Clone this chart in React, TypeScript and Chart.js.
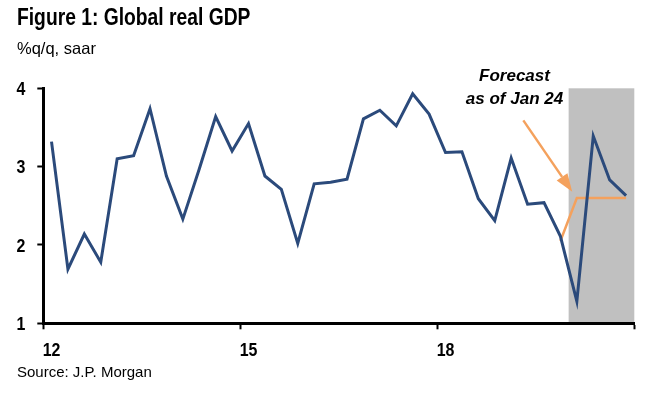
import React, { useEffect, useRef } from "react";
import { Chart, registerables } from "chart.js";

Chart.register(...registerables);

// ---- Data ----
const quarters = [
  "1Q12", "2Q12", "3Q12", "4Q12",
  "1Q13", "2Q13", "3Q13", "4Q13",
  "1Q14", "2Q14", "3Q14", "4Q14",
  "1Q15", "2Q15", "3Q15", "4Q15",
  "1Q16", "2Q16", "3Q16", "4Q16",
  "1Q17", "2Q17", "3Q17", "4Q17",
  "1Q18", "2Q18", "3Q18", "4Q18",
  "1Q19", "2Q19", "3Q19", "4Q19",
  "1Q20", "2Q20", "3Q20", "4Q20",
];

const globalGdp = [
  3.32, 1.69, 2.14, 1.78,
  3.10, 3.14, 3.74, 2.88,
  2.33, 2.97, 3.64, 3.20,
  3.55, 2.88, 2.71, 2.02,
  2.78, 2.80, 2.84, 3.61,
  3.72, 3.52, 3.93, 3.67,
  3.18, 3.19, 2.59, 2.31,
  3.11, 2.52, 2.54, 2.11,
  1.28, 3.39, 2.83, 2.63,
];

const forecastJan24 = [
  null, null, null, null,
  null, null, null, null,
  null, null, null, null,
  null, null, null, null,
  null, null, null, null,
  null, null, null, null,
  null, null, null, null,
  null, null, null, 2.05,
  2.60, 2.60, 2.60, 2.60,
];

const labelledQuarters = ["1Q12", "1Q15", "1Q18"];
const tickYearLabels = ["12", "15", "18"];
const boundaryQuarters = ["1Q12", "1Q15", "1Q18"]; // tick marks at these starts + axis end
const yTicks = [1, 2, 3, 4];

const shadeFrom = "1Q20";
const shadeTo = "4Q20";

// arrow annotation: [category index, value]
const arrowStart = [28.74, 3.59];
const arrowEnd = [31.72, 2.68];

const FONT = "'Liberation Sans', Arial, Helvetica, sans-serif";
const BLUE = "#2B4A7B";
const ORANGE = "#F4A15D";
const GREY = "#C0C0C0";
const NARROW_X = 0.84;
const TICK_FONT_PX = 19;

const shadePlugin = {
  id: "shadeForecast",
  beforeDraw(chart: any) {
    const xs = chart.scales.x;
    const ys = chart.scales.y;
    if (!xs || !ys) return;
    const i0 = quarters.indexOf(shadeFrom);
    const i1 = quarters.indexOf(shadeTo);
    const left = xs.getPixelForValue(i0 - 0.5);
    const right = xs.getPixelForValue(i1 + 0.5);
    const top = ys.getPixelForValue(yTicks[yTicks.length - 1]);
    const bottom = ys.getPixelForValue(yTicks[0]);
    const ctx = chart.ctx;
    ctx.save();
    ctx.fillStyle = GREY;
    ctx.fillRect(left, top, right - left, bottom - top);
    ctx.restore();
  },
};

const arrowPlugin = {
  id: "forecastArrow",
  afterDatasetsDraw(chart: any) {
    const xs = chart.scales.x;
    const ys = chart.scales.y;
    const x0 = xs.getPixelForValue(arrowStart[0]);
    const y0 = ys.getPixelForValue(arrowStart[1]);
    const x1 = xs.getPixelForValue(arrowEnd[0]);
    const y1 = ys.getPixelForValue(arrowEnd[1]);
    const ang = Math.atan2(y1 - y0, x1 - x0);
    const headLen = 18;
    const headW = 6.5;
    const bx = x1 - headLen * Math.cos(ang);
    const by = y1 - headLen * Math.sin(ang);
    const ctx = chart.ctx;
    ctx.save();
    ctx.strokeStyle = ORANGE;
    ctx.fillStyle = ORANGE;
    ctx.lineWidth = 2.5;
    ctx.beginPath();
    ctx.moveTo(x0, y0);
    ctx.lineTo(bx, by);
    ctx.stroke();
    ctx.beginPath();
    ctx.moveTo(x1, y1);
    ctx.lineTo(bx + headW * Math.sin(ang), by - headW * Math.cos(ang));
    ctx.lineTo(bx - headW * Math.sin(ang), by + headW * Math.cos(ang));
    ctx.closePath();
    ctx.fill();
    ctx.restore();
  },
};

// narrow (condensed) tick labels placed at the scales' own tick positions
const narrowTickLabels = {
  id: "narrowTickLabels",
  afterDraw(chart: any) {
    const xs = chart.scales.x;
    const ys = chart.scales.y;
    const ctx = chart.ctx;
    const capHalf = TICK_FONT_PX * 0.716 / 2;
    ctx.save();
    ctx.fillStyle = "#000";
    ctx.font = `bold ${TICK_FONT_PX}px ${FONT}`;
    ctx.textBaseline = "alphabetic";
    // x labels
    ctx.textAlign = "center";
    const xBase = xs.top + 6 + 13 + capHalf * 2;
    labelledQuarters.forEach((q, k) => {
      const px = xs.getPixelForValue(quarters.indexOf(q));
      ctx.save();
      ctx.translate(px, xBase);
      ctx.scale(NARROW_X, 1);
      ctx.fillText(tickYearLabels[k], 0, 0);
      ctx.restore();
    });
    // y labels
    ctx.textAlign = "right";
    const xRight = ys.right - 6 - 12;
    yTicks.forEach((v) => {
      const py = ys.getPixelForValue(v);
      ctx.save();
      ctx.translate(xRight, py + capHalf);
      ctx.scale(NARROW_X, 1);
      ctx.fillText(String(v), 0, 0);
      ctx.restore();
    });
    ctx.restore();
  },
};

export default function App() {
  const canvasRef = useRef<HTMLCanvasElement | null>(null);

  useEffect(() => {
    const canvas = canvasRef.current;
    if (!canvas) return;
    const boundaryIdx = boundaryQuarters.map((q) => quarters.indexOf(q));
    const chart = new Chart(canvas, {
      type: "line",
      data: {
        labels: quarters,
        datasets: [
          {
            label: "Forecast as of Jan 24",
            data: forecastJan24 as any,
            borderColor: ORANGE,
            borderWidth: 2.5,
            pointRadius: 0,
            tension: 0,
            spanGaps: false,
            order: 2,
          },
          {
            label: "Global real GDP",
            data: globalGdp,
            borderColor: BLUE,
            borderWidth: 3,
            pointRadius: 0,
            tension: 0,
            order: 1,
          },
        ],
      },
      options: {
        animation: false,
        responsive: false,
        maintainAspectRatio: false,
        events: [],
        layout: { padding: { top: 88.3, right: 14.7, left: 0, bottom: 0 } },
        plugins: {
          legend: { display: false },
          tooltip: { enabled: false },
          title: { display: false },
        },
        scales: {
          x: {
            type: "category",
            offset: true,
            grid: {
              offset: true,
              drawOnChartArea: false,
              drawTicks: true,
              tickLength: 6,
              tickWidth: 2,
              tickColor: (ctx: any) =>
                ctx.type === "scale" || boundaryIdx.includes(ctx.index)
                  ? "#000"
                  : "rgba(0,0,0,0)",
            },
            border: { display: true, color: "#000", width: 3 },
            ticks: {
              autoSkip: false,
              maxRotation: 0,
              minRotation: 0,
              padding: 9,
              color: "rgba(0,0,0,0)",
              font: { family: FONT, size: 16, weight: "bold" },
              callback: (_v: any, idx: number) => {
                const k = labelledQuarters.indexOf(quarters[idx]);
                return k >= 0 ? tickYearLabels[k] : "";
              },
            },
            afterFit: (s: any) => {
              s.height = 397 - 323.3;
            },
          },
          y: {
            min: yTicks[0],
            max: yTicks[yTicks.length - 1],
            afterBuildTicks: (s: any) => {
              s.ticks = yTicks.map((v) => ({ value: v }));
            },
            grid: {
              drawOnChartArea: false,
              drawTicks: true,
              tickLength: 6,
              tickWidth: 2,
              tickColor: "#000",
            },
            border: { display: true, color: "#000", width: 3 },
            ticks: {
              padding: 12,
              color: "rgba(0,0,0,0)",
              font: { family: FONT, size: 16, weight: "bold" },
            },
            afterFit: (s: any) => {
              s.width = 43.3;
            },
          },
        },
      },
      plugins: [shadePlugin, arrowPlugin, narrowTickLabels],
    } as any);
    return () => chart.destroy();
  }, []);

  const txt: React.CSSProperties = {
    position: "absolute",
    whiteSpace: "nowrap",
    fontFamily: FONT,
    color: "#000",
    lineHeight: 1,
    margin: 0,
  };

  return (
    <div
      style={{
        position: "fixed",
        left: 0,
        top: 0,
        width: 649,
        height: 397,
        background: "#fff",
        overflow: "hidden",
      }}
    >
      <canvas
        ref={canvasRef}
        width={649}
        height={397}
        style={{ position: "absolute", left: 0, top: 0, width: 649, height: 397 }}
      />
      <div
        style={{
          ...txt,
          left: 17,
          top: 6,
          fontSize: 23.5,
          fontWeight: "bold",
          transform: `scaleX(${0.82})`,
          transformOrigin: "left top",
        }}
      >
        Figure 1: Global real GDP
      </div>
      <div style={{ ...txt, left: 17, top: 40, fontSize: 16.5 }}>%q/q, saar</div>
      <div style={{ ...txt, left: 17, top: 364, fontSize: 15 }}>Source: J.P. Morgan</div>
      <div
        style={{
          ...txt,
          left: 444.5,
          width: 140,
          top: 64,
          fontSize: 17,
          fontWeight: "bold",
          fontStyle: "italic",
          textAlign: "center",
          lineHeight: "23px",
        }}
      >
        Forecast
        <br />
        as of Jan 24
      </div>
    </div>
  );
}
